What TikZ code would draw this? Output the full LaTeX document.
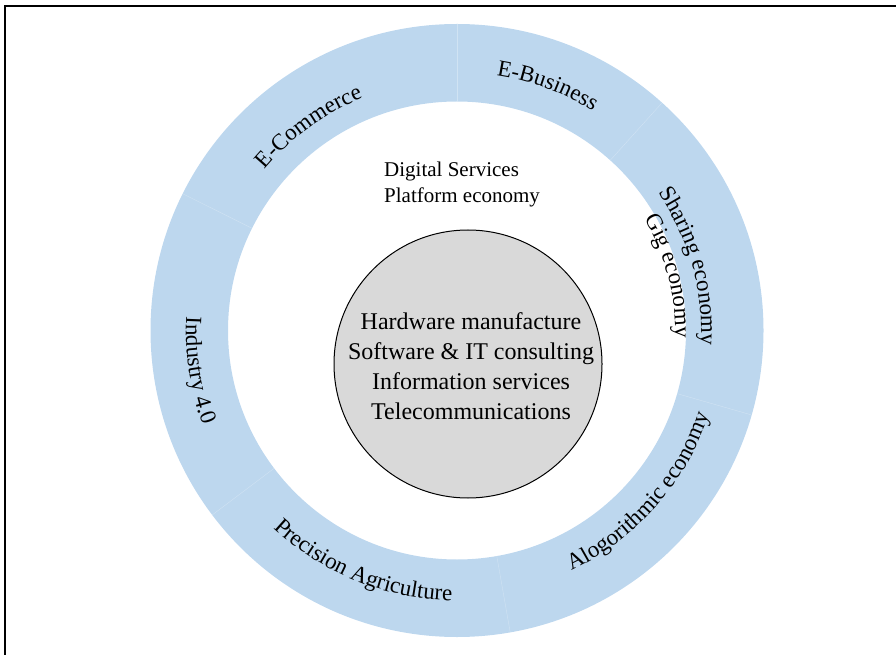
\documentclass[tikz,border=0pt]{standalone}
\usepackage{fontspec}
\setmainfont{Liberation Serif}
\usetikzlibrary{decorations.text}
\definecolor{ringblue}{HTML}{BDD7EE}
\definecolor{coregray}{HTML}{D9D9D9}
\newcommand{\ringfont}{\fontsize{23}{23}\selectfont}
\tikzset{
  seam/.style={white, line width=0.4pt, opacity=0.3},
  core/.style={circle, draw=black, line width=1pt, fill=coregray, minimum size=268pt, inner sep=0pt},
  ringlabel/.style={decorate, decoration={text along path, text align=center, text={|\ringfont|#1}}},
}
\begin{document}
\begin{tikzpicture}[x=1pt,y=1pt]
\useasboundingbox (0,0) rectangle (896,654);
\clip (0,0) rectangle (896,654);
\coordinate (C) at (457,323.5); % ring centre
\coordinate (K) at (468,290); % core centre
% frame
\draw[line width=1.4pt] (5,-10) rectangle (910,648);
% ring and its seams
\fill[ringblue, even odd rule] (C) circle[radius=306.5] (C) circle[radius=229];
\foreach \a in {90,48,-16,-80,217,153.5}
  \draw[seam, shift={(C)}] (\a:229) -- (\a:306.5);
% core
\node[core] (core) at (K) {};
\node[align=center, font=\fontsize{24}{30}\selectfont] (coretext) at (471,287.5)
  {Hardware manufacture\\Software \& IT consulting\\Information services\\Telecommunications};
\node[align=left, anchor=west, inner sep=0pt, font=\fontsize{21}{26}\selectfont] (services) at (384,470)
  {Digital Services\\Platform economy};
% ring labels, clockwise on top
\path[ringlabel={E-Commerce}, shift={(C)}] (196:251) arc[start angle=196, end angle=56, radius=251];
\path[ringlabel={E-Business}, shift={(C)}] (139.7:258) arc[start angle=139.7, end angle=-0.3, radius=258];
\path[ringlabel={Sharing economy}, shift={(C)}] (85.5:244) arc[start angle=85.5, end angle=-54.5, radius=244];
\path[ringlabel={Gig economy}, shift={(C)}] (84.5:218) arc[start angle=84.5, end angle=-55.5, radius=218];
% ring labels, counter-clockwise below
\path[ringlabel={Alogorithmic economy}, shift={(C)}] (-111.5:266) arc[start angle=-111.5, end angle=28.5, radius=266];
\path[ringlabel={Precision Agriculture}, shift={(C)}] (178:270) arc[start angle=178, end angle=318, radius=270];
\path[ringlabel={Industry 4.0}, shift={(C)}] (118.8:271) arc[start angle=118.8, end angle=258.8, radius=271];
\end{tikzpicture}
\end{document}
